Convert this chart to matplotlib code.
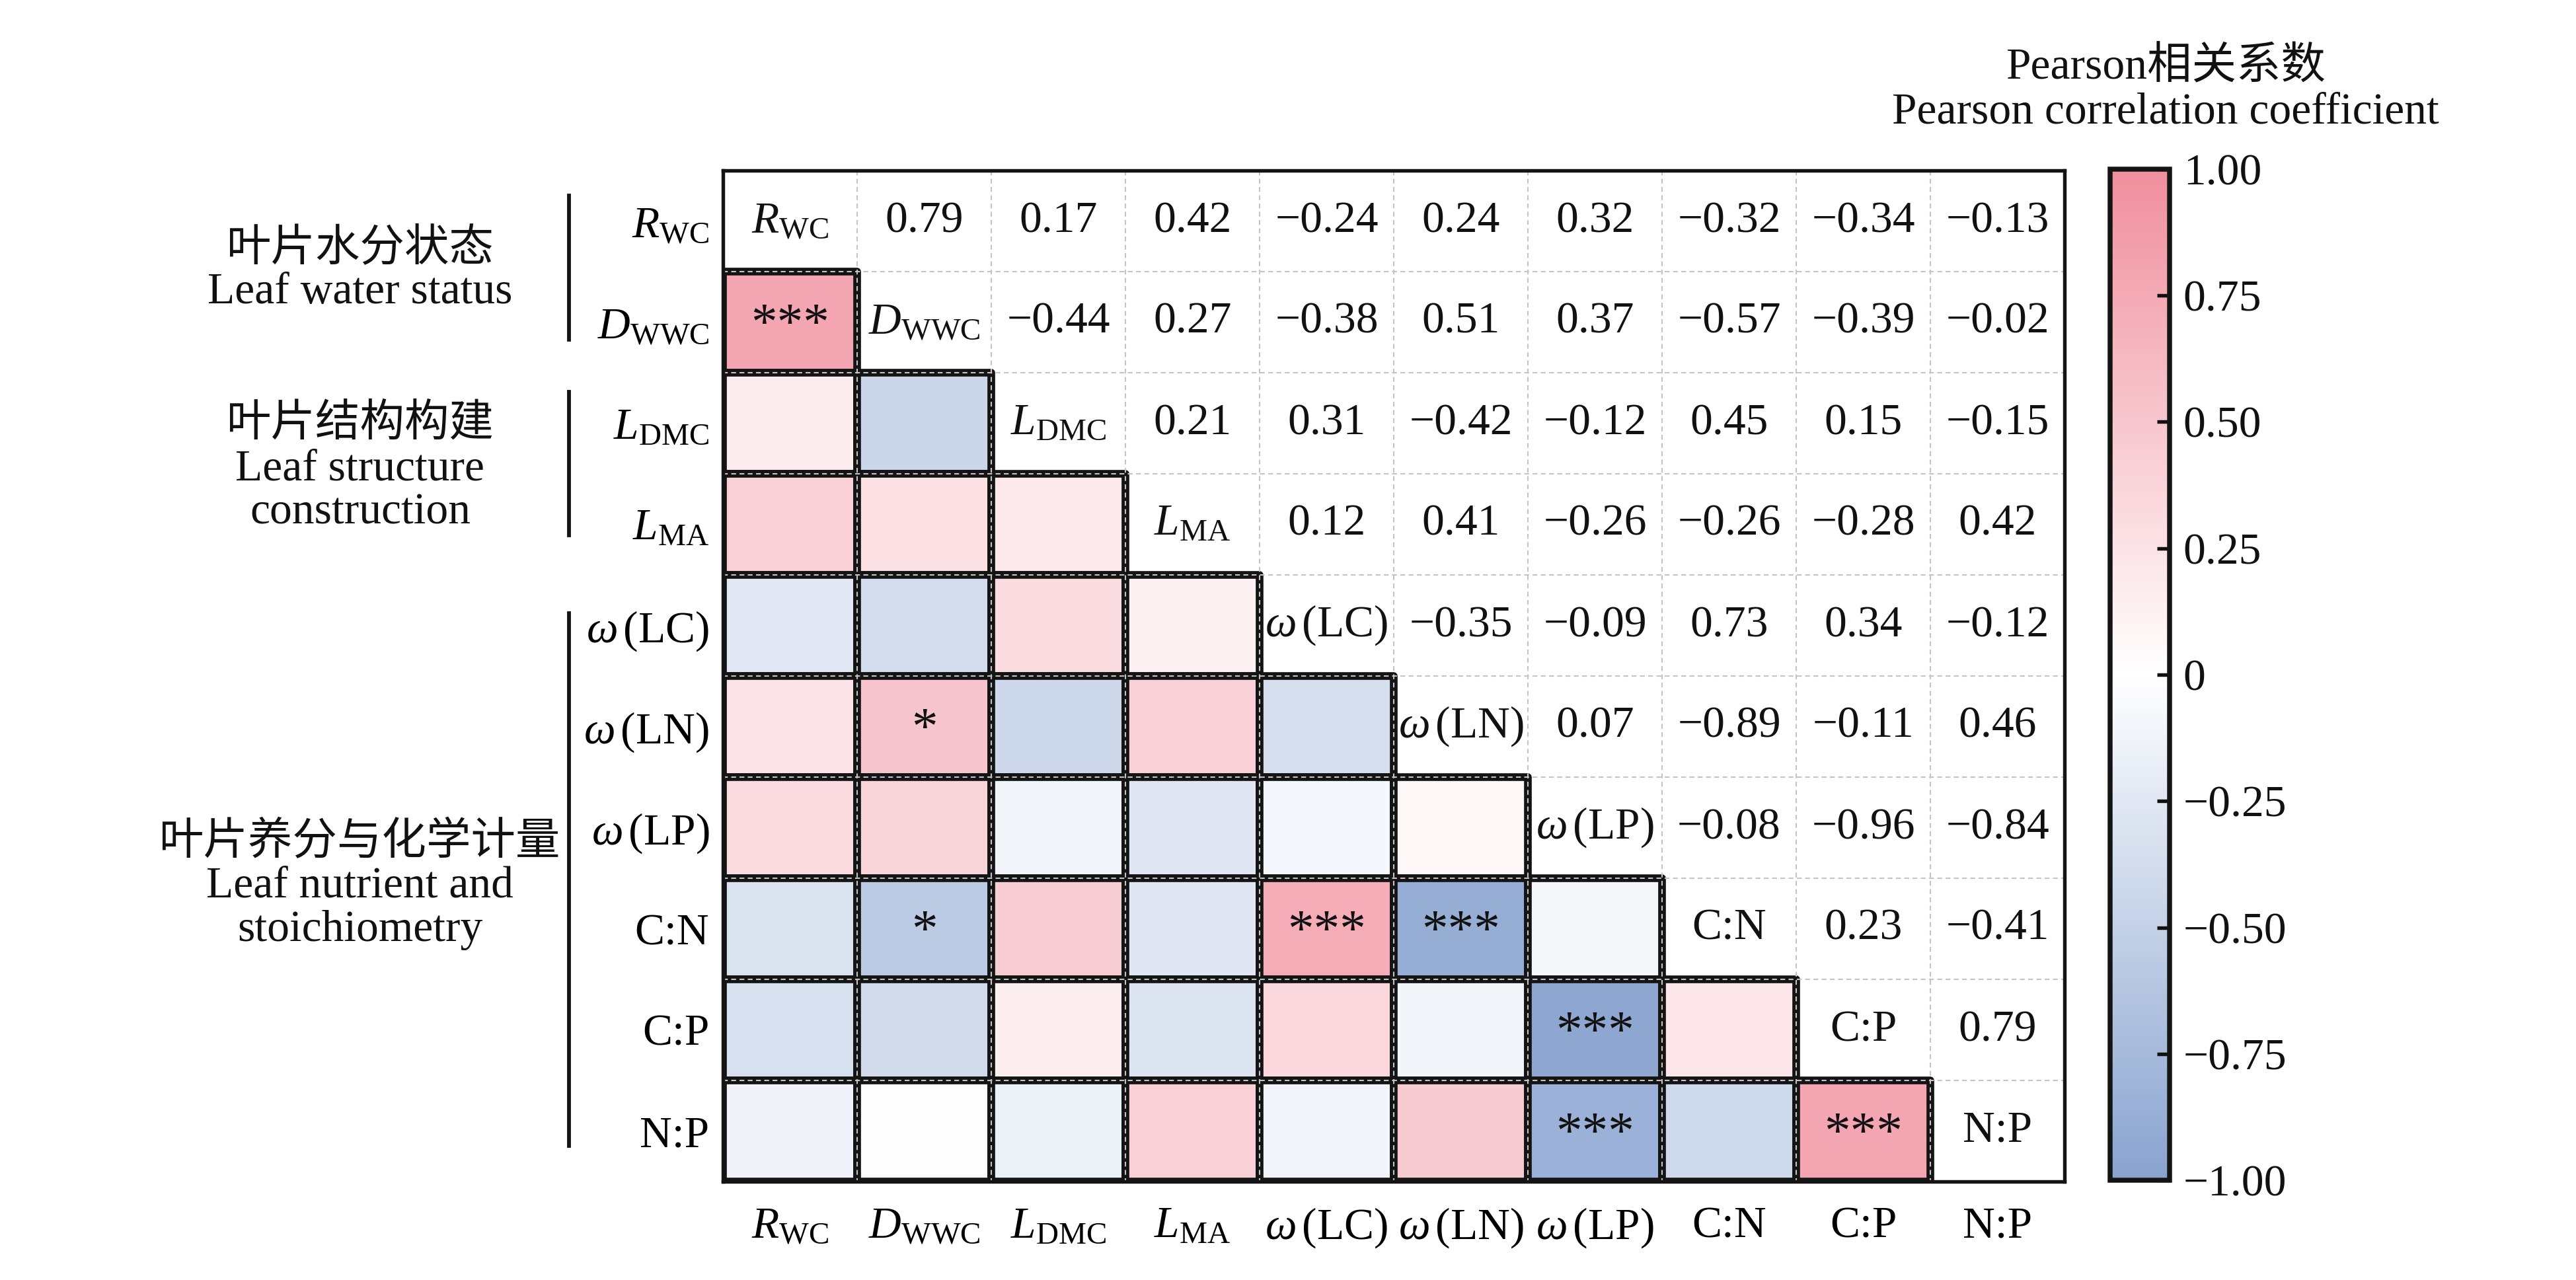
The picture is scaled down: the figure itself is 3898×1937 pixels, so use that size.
import numpy as np
import matplotlib
matplotlib.use('Agg')
import matplotlib.pyplot as plt
from matplotlib.colors import LinearSegmentedColormap, Normalize
from matplotlib.cm import ScalarMappable
from matplotlib.transforms import blended_transform_factory

plt.rcParams['font.family'] = ['Liberation Serif', 'Noto Sans CJK SC']
plt.rcParams['mathtext.fontset'] = 'custom'
plt.rcParams['mathtext.rm'] = 'Liberation Serif'
plt.rcParams['mathtext.it'] = 'Liberation Serif:italic'
plt.rcParams['mathtext.bf'] = 'Liberation Serif:bold'

# ---------------- data ----------------
variables = [r'$R_{\mathrm{WC}}$', r'$D_{\mathrm{WWC}}$', r'$L_{\mathrm{DMC}}$', r'$L_{\mathrm{MA}}$',
             r'$\omega\,$(LC)', r'$\omega\,$(LN)', r'$\omega\,$(LP)', 'C:N', 'C:P', 'N:P']

# upper-triangle Pearson r, row by row (columns to the right of the diagonal)
r_rwc = [0.79, 0.17, 0.42, -0.24, 0.24, 0.32, -0.32, -0.34, -0.13]
r_dwwc = [-0.44, 0.27, -0.38, 0.51, 0.37, -0.57, -0.39, -0.02]
r_ldmc = [0.21, 0.31, -0.42, -0.12, 0.45, 0.15, -0.15]
r_lma = [0.12, 0.41, -0.26, -0.26, -0.28, 0.42]
r_lc = [-0.35, -0.09, 0.73, 0.34, -0.12]
r_ln = [0.07, -0.89, -0.11, 0.46]
r_lp = [-0.08, -0.96, -0.84]
r_cn = [0.23, -0.41]
r_cp = [0.79]
upper_rows = [r_rwc, r_dwwc, r_ldmc, r_lma, r_lc, r_ln, r_lp, r_cn, r_cp]

# significance marks (row, col) in lower triangle
sig_rows = [1, 5, 7, 7, 7, 8, 9, 9]
sig_cols = [0, 1, 1, 4, 5, 6, 6, 8]
sig_marks = ['***', '*', '*', '***', '***', '***', '***', '***']

group_cn = ['叶片水分状态', '叶片结构构建', '叶片养分与化学计量']
group_en = [['Leaf water status'], ['Leaf structure', 'construction'], ['Leaf nutrient and', 'stoichiometry']]

cbar_ticks = [-1.0, -0.75, -0.5, -0.25, 0.0, 0.25, 0.5, 0.75, 1.0]
cbar_ticklabels = ['\u22121.00', '\u22120.75', '\u22120.50', '\u22120.25', '0', '0.25', '0.50', '0.75', '1.00']

# ---------------- matrix ----------------
n = len(variables)
R = np.eye(n)
for i, row in enumerate(upper_rows):
    for k, v in enumerate(row):
        j = i + 1 + k
        R[i, j] = v
        R[j, i] = v

cmap = LinearSegmentedColormap.from_list('pk', [(0, '#89a3cf'), (0.5, '#ffffff'), (1, '#f08e9d')])
norm = Normalize(-1, 1)

W, H = 3898, 1937
fig = plt.figure(figsize=(W / 300, H / 300), dpi=300)

ax_l, ax_r, ax_t, ax_b = 1094, 3124, 258, 1788
ax = fig.add_axes([ax_l / W, 1 - ax_b / H, (ax_r - ax_l) / W, (ax_b - ax_t) / H])

rows_idx, cols_idx = np.indices((n, n))
lower = np.ma.masked_where(cols_idx >= rows_idx, R)
ax.pcolor(np.arange(n + 1), np.arange(n + 1), lower, cmap=cmap, norm=norm,
          edgecolors='#141414', linewidth=2.8, zorder=2)
ax.set_xlim(0, n)
ax.set_ylim(n, 0)

dash = (0, (3.5, 2.5))
ax.hlines(np.arange(1, n), 0, n, colors='#c4c4c4', linestyles=dash, lw=0.5, zorder=3)
ax.vlines(np.arange(1, n), 0, n, colors='#c4c4c4', linestyles=dash, lw=0.5, zorder=3)

fs = 16.2
for i in range(n):
    for j in range(n):
        if j > i:
            ax.text(j + 0.5, i + 0.5, f'{R[i, j]:.2f}'.replace('-', '\u2212'),
                    ha='center', va='center', fontsize=fs, color='#111111', zorder=4)
        elif j == i:
            ax.text(j + 0.5, i + 0.5, variables[i], ha='center', va='center',
                    fontsize=fs, color='#111111', zorder=4)
for r, c, m in zip(sig_rows, sig_cols, sig_marks):
    ax.text(c + 0.5, r + 0.54, m, ha='center', va='center', fontsize=19, color='#111111', zorder=4)

ax.set_xticks(np.arange(n) + 0.5)
ax.set_xticklabels(variables, fontsize=fs)
ax.set_yticks(np.arange(n) + 0.5)
ax.set_yticklabels(variables, fontsize=fs)
ax.tick_params(axis='x', length=0, pad=9)
ax.tick_params(axis='y', length=0, pad=5)
for s in ax.spines.values():
    s.set_linewidth(1.3)
    s.set_color('#141414')
    s.set_zorder(5)

# group brackets
trans = blended_transform_factory(ax.transAxes, ax.transData)
bx = (861 - ax_l) / (ax_r - ax_l)
bracket_spans = [(0.25, 1.67), (2.19, 3.61), (4.38, 9.65)]
for (y0, y1) in bracket_spans:
    ax.plot([bx, bx], [y0, y1], color='#141414', lw=1.4, transform=trans, clip_on=False)

gx = 545 / W
cn_y = [377, 644, 1275]
for g in range(3):
    y = cn_y[g]
    fig.text(gx, 1 - y / H, group_cn[g], ha='center', va='center', fontsize=fs, color='#111111')
    for k, line in enumerate(group_en[g]):
        yy = y + 66 * (k + 1)
        fig.text(gx, 1 - yy / H, line, ha='center', va='center', fontsize=fs, color='#111111')

# colorbar
cb_l, cb_r = 3193, 3283
cax = fig.add_axes([cb_l / W, 1 - 1786 / H, (cb_r - cb_l) / W, (1786 - 256) / H])
cb = fig.colorbar(ScalarMappable(norm=norm, cmap=cmap), cax=cax)
cb.set_ticks(cbar_ticks)
cb.set_ticklabels(cbar_ticklabels)
cax.tick_params(direction='in', length=4.5, width=1.3, pad=5, labelsize=fs, colors='#111111')
cb.outline.set_linewidth(1.8)
cb.outline.set_edgecolor('#141414')

fig.text(3277 / W, 1 - 102 / H, 'Pearson相关系数', ha='center', va='center', fontsize=fs, color='#111111')
fig.text(3277 / W, 1 - 170 / H, 'Pearson correlation coefficient', ha='center', va='center',
         fontsize=fs, color='#111111')

fig.savefig('out.png', dpi=300)
